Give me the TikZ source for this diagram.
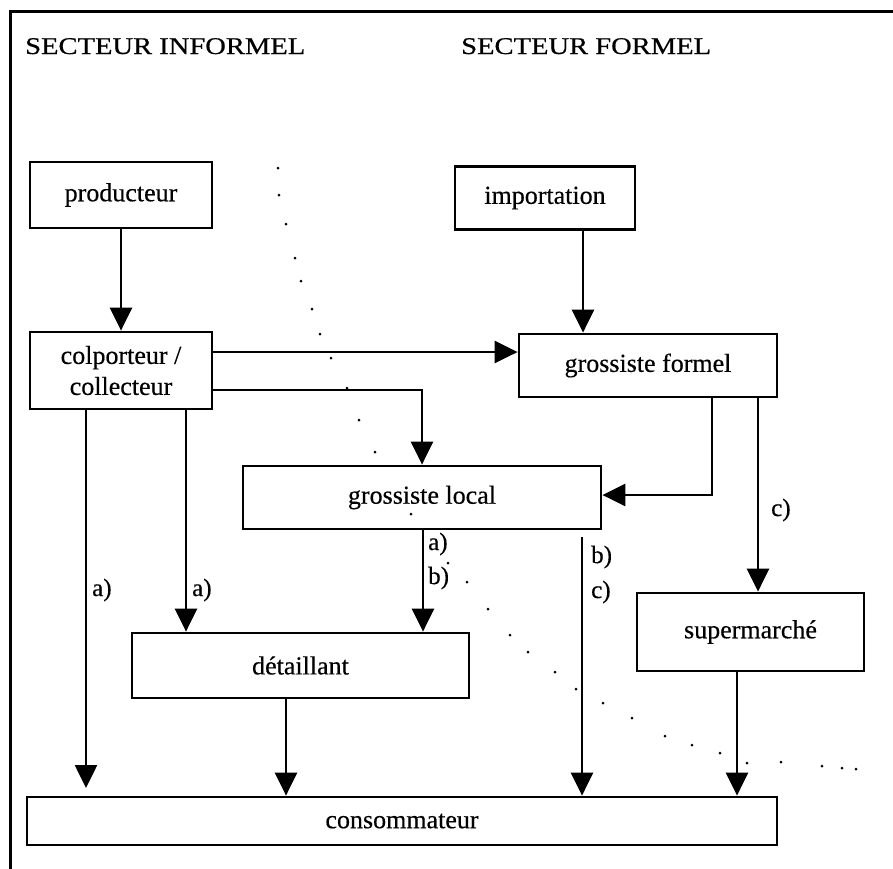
\documentclass[tikz,border=0pt]{standalone}
\usepackage{fontspec}
\setmainfont{Liberation Serif}
\newfontfamily\bodyfont[FakeBold=0.4]{Liberation Serif}
\newfontfamily\headfont[FakeStretch=1.19,FakeBold=0.6]{Liberation Serif}
\usetikzlibrary{arrows.meta}
\begin{document}
\begin{tikzpicture}[x=1pt,y=-1pt,
  box/.style={draw,line width=2.8pt,inner sep=0pt,align=center,font=\bodyfont\fontsize{26}{31}\selectfont},
  arr/.style={line width=2.6pt,-{Triangle[length=23pt,width=22pt]}},
  lab/.style={font=\bodyfont\fontsize{25}{29}\selectfont,inner sep=0pt},
  head/.style={font=\headfont\fontsize{24}{28}\selectfont,inner sep=0pt,anchor=base west},
  dot/.style={fill=black,draw=none}]
\useasboundingbox (0,0) rectangle (893,868);
% outer frame (only top and left visible)
\draw[line width=3pt] (10,880) -- (10,11) -- (905,11);
% headers
\node[head] (hinf) at (25,54) {SECTEUR INFORMEL};
\node[head] (hfor) at (461,54) {SECTEUR FORMEL};
% boxes
\node[box,minimum width=182pt,minimum height=66pt] (prod) at (121,195) {producteur};
\node[box,minimum width=180pt,minimum height=63pt] (imp) at (545,198) {importation};
\node[box,minimum width=182pt,minimum height=77pt] (colp) at (121,370.5) {colporteur /\\collecteur};
\node[box,minimum width=258pt,minimum height=63pt] (gf) at (648,365.5) {grossiste formel};
\node[box,minimum width=358pt,minimum height=63pt] (gl) at (422,497.5) {grossiste local};
\node[box,minimum width=337pt,minimum height=65pt] (det) at (300.5,665.5) {détaillant};
\node[box,minimum width=227pt,minimum height=78pt] (sup) at (750.5,632) {supermarché};
\node[box,minimum width=750pt,minimum height=48pt] (cons) at (402,821) {consommateur};
% free ends
\coordinate (e1) at (86,788);
\coordinate (s10) at (582,537);
% connectors
\draw[arr] (prod.south) -- (colp.north);
\draw[arr] (583,0 |- imp.south) -- (583,0 |- gf.north);
\draw[arr] (colp.east |- 0,352) -- (gf.west |- 0,352);
\draw[arr] (colp.east |- 0,390) -- (422,390) -- (422,0 |- gl.north);
\draw[arr] (712,0 |- gf.south) -- (712,495) -- (gl.east |- 0,495);
\draw[arr] (758,0 |- gf.south) -- (758,0 |- sup.north);
\node[lab,anchor=west] at (771,510) {c)};
\draw[arr] (86,0 |- colp.south) -- (e1);
\node[lab,anchor=west] at (92,590) {a)};
\draw[arr] (186,0 |- colp.south) -- (186,0 |- det.north);
\node[lab,anchor=west] at (192,590) {a)};
\draw[arr] (423,0 |- gl.south) -- (423,0 |- det.north);
\node[lab,anchor=west] at (428,544) {a)};
\node[lab,anchor=west] at (428,578) {b)};
\draw[arr] (s10) -- (582,0 |- cons.north);
\node[lab,anchor=west] at (591,557) {b)};
\node[lab,anchor=west] at (591,592) {c)};
\draw[arr] (286,0 |- det.south) -- (286,0 |- cons.north);
\draw[arr] (737,0 |- sup.south) -- (737,0 |- cons.north);
% dotted boundary
\foreach \p in {(278,168),(279,195),(286,224),(295,258),(301,281),(312,309),(320,334),(331,358),(347,388),(359,420),(375,452),(411,514),(448,563),(467,582),(488,609),(510,635),(528,652),(555,672),(576,689),(603,703),(632,718),(665,736),(692,745),(720,753),(747,763),(781,762),(822,766),(842,768),(856,769)}
  \fill[dot] \p circle (1.5pt);
\end{tikzpicture}
\end{document}
